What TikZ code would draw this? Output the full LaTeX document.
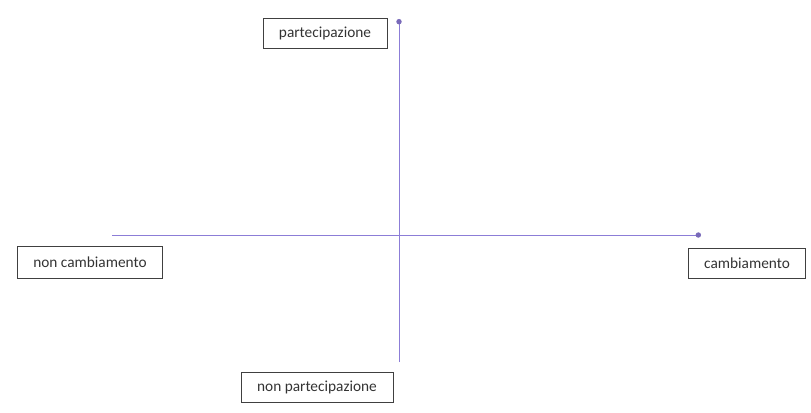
\documentclass[tikz,border=0pt]{standalone}
\usepackage{fontspec}
\setmainfont{Carlito}
\usepackage{xcolor}
\usetikzlibrary{arrows.meta,positioning}

\definecolor{axisline}{RGB}{140,125,215}
\definecolor{axisdot}{RGB}{120,105,185}

\begin{document}
\begin{tikzpicture}[
      x=0.75pt, y=-0.75pt,
      label box/.style={draw=black!75, line width=0.6pt, minimum height=22.5pt,
        inner xsep=5pt, font=\fontsize{11.5}{13}\selectfont, text=black!80},
      axis/.style={draw=axisline, line width=0.75pt,
        -{Circle[length=4pt, color=axisdot]}}
    ]
    \useasboundingbox (0,0) rectangle (811,412);

    % assi
    \coordinate (top) at (399,19);
    \coordinate (bottom) at (399,362);
    \coordinate (left) at (112,235);
    \coordinate (right) at (701,235);

    \draw[axis] (bottom) -- (top);
    \draw[axis] (left) -- (right);

    % etichette
    \node[label box, minimum width=93pt] (partecipazione) at (325,33)
      {partecipazione};
    \node[label box, minimum width=88pt] (cambiamento) at (747,263)
      {cambiamento};
    \node[label box, minimum width=109pt, minimum height=24pt] (noncambiamento) at (90,262)
      {non cambiamento};
    \node[label box, minimum width=114pt] (nonpartecipazione) at (317,387)
      {non partecipazione};
  \end{tikzpicture}
\end{document}
